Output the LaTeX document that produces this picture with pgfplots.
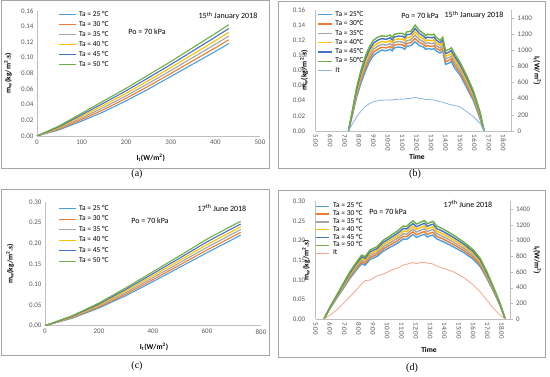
\documentclass[border=0pt]{standalone}
\usepackage{pgfplots}
\usepackage{pgfplotstable}
\pgfplotsset{compat=1.18}
\usepackage{fontspec}
\setmainfont{Carlito}
\newfontfamily\capfont{Liberation Serif}
\definecolor{cA}{HTML}{4A9FE0}
\definecolor{cB}{HTML}{ED7D31}
\definecolor{cC}{HTML}{A5A5A5}
\definecolor{cD}{HTML}{FFC000}
\definecolor{cE}{HTML}{4472C4}
\definecolor{cF}{HTML}{70AD47}
\definecolor{itb}{HTML}{8DB4E2}
\definecolor{itd}{HTML}{F5A38A}
\definecolor{axgray}{HTML}{BFBFBF}
\definecolor{boxgray}{HTML}{A6A6A6}
\definecolor{tickgray}{HTML}{595959}

\pgfplotstableread{
x m25 m30 m35 m40 m45 m50
0 0 0 0 0 0 0
50 .008 .009 .010 .011 .012 .013
100 .019 .021 .023 .025 .027 .029
150 .031 .0338 .0366 .0394 .0422 .045
200 .045 .0482 .0514 .0546 .0578 .061
250 .060 .0636 .0672 .0708 .0744 .078
300 .076 .0798 .0836 .0874 .0912 .095
350 .092 .0962 .1004 .1046 .1088 .113
400 .108 .1126 .1172 .1218 .1264 .131
430 .118 .1228 .1276 .1324 .1372 .142
}\tabA

\pgfplotstableread{
x m25 m30 m35 m40 m45 m50
0 0 0 0 0 0 0
100 .018 .0192 .0204 .0216 .0228 .024
200 .043 .0454 .0478 .0502 .0526 .055
300 .073 .0768 .0806 .0844 .0882 .092
400 .107 .1118 .1166 .1214 .1262 .131
500 .142 .1476 .1532 .1588 .1644 .170
600 .177 .1836 .1902 .1968 .2034 .210
700 .211 .2178 .2246 .2314 .2382 .245
725 .220 .2266 .2332 .2398 .2464 .253
}\tabC

\pgfplotstableread{
t m25 m30 m35 m40 m45 m50 It
7.27 0 0 0 0 0 0 0
7.55 .022 .0232 .0244 .0256 .0268 .028 90
7.84 .045 .0476 .0502 .0528 .0554 .058 177
8.13 .063 .0664 .0698 .0732 .0766 .080 245
8.42 .078 .082 .086 .090 .094 .098 301
8.71 .091 .095 .099 .103 .107 .111 338
9.00 .100 .104 .108 .112 .116 .120 363
9.29 .104 .108 .112 .116 .120 .124 375
9.58 .107 .1108 .1146 .1184 .1222 .126 382
9.87 .106 .1098 .1136 .1174 .1212 .125 384
10.16 .108 .1118 .1156 .1194 .1232 .127 386
10.30 .106 .1096 .1132 .1168 .1204 .124 383
10.45 .110 .1136 .1172 .1208 .1244 .128 390
10.74 .111 .1146 .1182 .1218 .1254 .129 394
11.03 .110 .1138 .1176 .1214 .1252 .129 396
11.17 .108 .1118 .1156 .1194 .1232 .127 394
11.31 .112 .1158 .1196 .1234 .1272 .131 402
11.60 .113 .1168 .1206 .1244 .1282 .132 405
11.89 .118 .1224 .1268 .1312 .1356 .140 418
12.18 .113 .117 .121 .125 .129 .133 405
12.47 .111 .1146 .1182 .1218 .1254 .129 398
12.62 .108 .1116 .1152 .1188 .1224 .126 390
12.76 .109 .1128 .1166 .1204 .1242 .128 392
13.05 .108 .1118 .1156 .1194 .1232 .127 385
13.20 .109 .1128 .1166 .1204 .1242 .128 384
13.34 .106 .1096 .1132 .1168 .1204 .124 376
13.62 .103 .1064 .1098 .1132 .1166 .120 363
13.80 .106 .1096 .1132 .1168 .1204 .124 358
14.00 .088 .0916 .0952 .0988 .1024 .106 345
14.25 .090 .0936 .0972 .1008 .1044 .108 330
14.40 .092 .0956 .0992 .1028 .1064 .110 325
14.60 .084 .0878 .0916 .0954 .0992 .103 315
15.00 .074 .0774 .0808 .0842 .0876 .091 301
15.47 .057 .0602 .0634 .0666 .0698 .073 239
15.93 .040 .0426 .0452 .0478 .0504 .053 177
16.39 .016 .0178 .0196 .0214 .0232 .025 95
16.67 0 0 0 0 0 0 0
}\tabB

\pgfplotstableread{
t m25 m30 m35 m40 m45 m50 It
5.58 0 0 0 0 0 0 0
6.00 .027 .0278 .0286 .0294 .0302 .031 50
6.47 .053 .0546 .0562 .0578 .0594 .061 115
6.93 .078 .0806 .0832 .0858 .0884 .091 200
7.40 .104 .1074 .1108 .1142 .1176 .121 284
7.87 .126 .130 .134 .138 .142 .146 378
8.22 .141 .1454 .1498 .1542 .1586 .163 450
8.45 .137 .1414 .1458 .1502 .1546 .159 490
8.80 .152 .1568 .1616 .1664 .1712 .176 496
9.27 .159 .164 .169 .174 .179 .184 548
9.73 .173 .1786 .1842 .1898 .1954 .201 573
10.20 .183 .1888 .1946 .2004 .2062 .212 616
10.66 .192 .1982 .2044 .2106 .2168 .223 645
11.13 .204 .2106 .2172 .2238 .2304 .237 688
11.36 .203 .2096 .2162 .2228 .2294 .236 698
11.59 .210 .2168 .2236 .2304 .2372 .244 709
11.80 .215 .222 .229 .236 .243 .250 720
12.05 .208 .2148 .2216 .2284 .2352 .242 705
12.29 .212 .2188 .2256 .2324 .2392 .246 718
12.60 .216 .223 .230 .237 .244 .251 722
12.80 .209 .2158 .2226 .2294 .2362 .243 710
12.99 .212 .2188 .2256 .2324 .2392 .246 709
13.20 .214 .221 .228 .235 .242 .249 700
13.46 .204 .2106 .2172 .2238 .2304 .237 675
13.93 .197 .2034 .2098 .2162 .2226 .229 645
14.62 .184 .190 .196 .202 .208 .214 603
15.32 .170 .1754 .1808 .1862 .1916 .197 531
16.02 .152 .1568 .1616 .1664 .1712 .176 433
16.49 .134 .1382 .1424 .1466 .1508 .155 348
16.96 .104 .1074 .1108 .1142 .1176 .121 242
17.42 .071 .0732 .0754 .0776 .0798 .082 136
17.89 .034 .0352 .0364 .0376 .0388 .040 51
18.24 0 0 0 0 0 0 0
}\tabD

\pgfplotsset{
  base/.style={
    scale only axis, anchor=south west,
    axis line style={-, draw=axgray, line width=0.6pt},
    major tick length=0pt, tick style={draw=none},
    ticklabel style={font=\fontsize{7}{8}\selectfont, text=tickgray},
    /pgf/number format/assume math mode=true,
    /pgf/number format/1000 sep={},
    label style={font=\bfseries\fontsize{7.5}{8}\selectfont},
    scaled y ticks=false,
    legend style={draw=none, fill=none, inner sep=0pt, outer sep=0pt,
      font=\fontsize{7.5}{8}\selectfont, anchor=north west,
      nodes={inner xsep=1pt, inner ysep=0pt, text height=5pt, text depth=1.5pt}},
    legend cell align=left,
  },
  twodec/.style={yticklabel style={/pgf/number format/fixed, /pgf/number format/fixed zerofill, /pgf/number format/precision=2}},
  leglen/.style={legend image code/.code={\draw[##1] (0pt,0pt) -- (#1,0pt);}},
  timeax/.style={xmin=5, xmax=18.58,
    xtick={5,6,7,8,9,10,11,12,13,14,15,16,17,18},
    xticklabels={5:00,6:00,7:00,8:00,9:00,10:00,11:00,12:00,13:00,14:00,15:00,16:00,17:00,18:00},
    xticklabel style={rotate=-90, anchor=west}},
}

\begin{document}
\begin{tikzpicture}
\useasboundingbox (0pt,0pt) rectangle (550pt,-377pt);
\draw[boxgray, line width=0.5pt] (1pt,-0.5pt) rectangle (269pt,-168pt);
\draw[boxgray, line width=0.5pt] (278pt,-1.5pt) rectangle (545pt,-168pt);
\draw[boxgray, line width=0.5pt] (1pt,-189pt) rectangle (269pt,-355pt);
\draw[boxgray, line width=0.5pt] (278pt,-190pt) rectangle (545pt,-357pt);

% ---------- (a)
\begin{axis}[base, twodec, at={(37pt,-136pt)}, width=223pt, height=125.3pt,
  axis x line*=bottom, axis y line*=left,
  xmin=0, xmax=500, ymin=0, ymax=0.16,
  xtick={0,100,200,300,400,500}, ytick={0,0.02,0.04,0.06,0.08,0.10,0.12,0.14,0.16},
  xlabel={I\textsubscript{t}(W/m\textsuperscript{2})},
  ylabel={m\textsubscript{w}(kg/m\textsuperscript{2}.s)},
  xlabel style={at={(axis description cs:0.51,-0.176)}, anchor=center},
  ylabel style={at={(axis description cs:-0.13,0.5)}, anchor=center},
  leglen=17pt,
  legend style={at={(0.094,0.994)}, row sep=3.5pt, column sep=2pt}]
\addplot[cA, line width=1.1pt] table[x=x,y=m25]{\tabA};
\addplot[cB, line width=1.1pt] table[x=x,y=m30]{\tabA};
\addplot[cC, line width=1.1pt] table[x=x,y=m35]{\tabA};
\addplot[cD, line width=1.1pt] table[x=x,y=m40]{\tabA};
\addplot[cE, line width=1.1pt] table[x=x,y=m45]{\tabA};
\addplot[cF, line width=1.1pt] table[x=x,y=m50]{\tabA};
\legend{Ta = 25 °C, Ta = 30 °C, Ta = 35 °C, Ta = 40 °C, Ta = 45 °C, Ta = 50 °C}
\end{axis}

% ---------- (c)
\begin{axis}[base, twodec, at={(45pt,-325.7pt)}, width=216pt, height=123.7pt,
  axis x line*=bottom, axis y line*=left,
  xmin=0, xmax=800, ymin=0, ymax=0.30,
  xtick={0,200,400,600,800}, ytick={0,0.05,0.10,0.15,0.20,0.25,0.30},
  xlabel={I\textsubscript{t}(W/m\textsuperscript{2})},
  ylabel={m\textsubscript{w}(kg/m\textsuperscript{2}.s)},
  xlabel style={at={(axis description cs:0.505,-0.172)}, anchor=center},
  ylabel style={at={(axis description cs:-0.162,0.5)}, anchor=center},
  leglen=17pt,
  legend style={at={(0.06,0.972)}, row sep=4pt, column sep=2pt}]
\addplot[cA, line width=1.1pt] table[x=x,y=m25]{\tabC};
\addplot[cB, line width=1.1pt] table[x=x,y=m30]{\tabC};
\addplot[cC, line width=1.1pt] table[x=x,y=m35]{\tabC};
\addplot[cD, line width=1.1pt] table[x=x,y=m40]{\tabC};
\addplot[cE, line width=1.1pt] table[x=x,y=m45]{\tabC};
\addplot[cF, line width=1.1pt] table[x=x,y=m50]{\tabC};
\legend{Ta = 25 °C, Ta = 30 °C, Ta = 35 °C, Ta = 40 °C, Ta = 45 °C, Ta = 50 °C}
\end{axis}

% ---------- (b)
\begin{axis}[base, twodec, timeax, at={(315.7pt,-131pt)}, width=196pt, height=121pt,
  axis x line*=bottom, axis y line*=left,
  ymin=0, ymax=0.16, ytick={0,0.02,0.04,0.06,0.08,0.10,0.12,0.14,0.16},
  xlabel={Time},
  ylabel={m\textsubscript{w}(kg/m\textsuperscript{2}.s)},
  xlabel style={at={(axis description cs:0.517,-0.215)}, anchor=center},
  ylabel style={at={(axis description cs:-0.06,0.5)}, anchor=center},
  yticklabel style={xshift=-7pt},
  leglen=14pt,
  legend style={at={(0.007,0.988)}, row sep=2.8pt, column sep=2pt}]
\addplot[cA, line width=1.4pt] table[x=t,y=m25]{\tabB};
\addplot[cB, line width=1.4pt] table[x=t,y=m30]{\tabB};
\addplot[cC, line width=1.4pt] table[x=t,y=m35]{\tabB};
\addplot[cD, line width=1.4pt] table[x=t,y=m40]{\tabB};
\addplot[cE, line width=1.4pt] table[x=t,y=m45]{\tabB};
\addplot[cF, line width=1.4pt] table[x=t,y=m50]{\tabB};
\addlegendimage{itb, line width=0.8pt}
\legend{Ta = 25°C, Ta = 30°C, Ta = 35°C, Ta = 40°C, Ta = 45°C, Ta = 50°C, It}
\end{axis}
\begin{axis}[base, at={(315.7pt,-131pt)}, width=196pt, height=121pt,
  axis x line=none, axis y line*=right,
  xmin=5, xmax=18.58, ymin=0, ymax=1500,
  ytick={0,200,400,600,800,1000,1200,1400},
  major tick length=2.5pt, tick align=outside, ytick style={draw=axgray},
  ylabel={I\textsubscript{t}(W/m\textsuperscript{2})},
  ylabel style={at={(axis description cs:1.13,0.5)}, anchor=center, rotate=180}]
\addplot[itb, line width=0.8pt] table[x=t,y=It]{\tabB};
\end{axis}

% ---------- (d)
\begin{axis}[base, twodec, timeax, at={(315.7pt,-319pt)}, width=194.3pt, height=117.7pt,
  axis x line*=bottom, axis y line*=left,
  ymin=0, ymax=0.30, ytick={0,0.05,0.10,0.15,0.20,0.25,0.30},
  xlabel={Time},
  ylabel={m\textsubscript{w}(kg/m\textsuperscript{2}.s)},
  xlabel style={at={(axis description cs:0.583,-0.263)}, anchor=center},
  ylabel style={at={(axis description cs:-0.05,0.5)}, anchor=center},
  yticklabel style={xshift=-7pt},
  leglen=13pt,
  legend style={at={(0.0,0.986)}, row sep=1.3pt, column sep=2pt}]
\addplot[cA, line width=1.4pt] table[x=t,y=m25]{\tabD};
\addplot[cB, line width=1.4pt] table[x=t,y=m30]{\tabD};
\addplot[cC, line width=1.4pt] table[x=t,y=m35]{\tabD};
\addplot[cD, line width=1.4pt] table[x=t,y=m40]{\tabD};
\addplot[cE, line width=1.4pt] table[x=t,y=m45]{\tabD};
\addplot[cF, line width=1.4pt] table[x=t,y=m50]{\tabD};
\addlegendimage{itd, line width=0.8pt}
\legend{Ta = 25 °C, Ta = 30 °C, Ta = 35 °C, Ta = 40 °C, Ta = 45 °C, Ta = 50 °C, It}
\end{axis}
\begin{axis}[base, at={(315.7pt,-319pt)}, width=194.3pt, height=117.7pt,
  axis x line=none, axis y line*=right,
  xmin=5, xmax=18.58, ymin=0, ymax=1500,
  ytick={0,200,400,600,800,1000,1200,1400},
  major tick length=2.5pt, tick align=outside, ytick style={draw=axgray},
  ylabel={I\textsubscript{t}(W/m\textsuperscript{2})},
  ylabel style={at={(axis description cs:1.14,0.5)}, anchor=center, rotate=180}]
\addplot[itd, line width=0.8pt] table[x=t,y=It]{\tabD};
\end{axis}

% ---------- annotations
\begin{scope}[every node/.style={font=\fontsize{8}{9}\selectfont, inner sep=0pt}]
\node at (147pt,-32pt) {Po = 70 kPa};
\node at (228pt,-16pt) {15\textsuperscript{th} January 2018};
\node at (420pt,-15.7pt) {Po = 70 kPa};
\node at (474pt,-15pt) {15\textsuperscript{th} January 2018};
\node at (150pt,-221pt) {Po = 70 kPa};
\node at (222pt,-208pt) {17\textsuperscript{th} June 2018};
\node at (388pt,-212pt) {Po = 70 kPa};
\node at (468pt,-204pt) {17\textsuperscript{th} June 2018};
\end{scope}
\begin{scope}[every node/.style={font=\capfont\fontsize{10}{11}\selectfont, inner sep=0pt}]
\node at (137pt,-174pt) {(a)};
\node at (415pt,-174pt) {(b)};
\node at (137pt,-366pt) {(c)};
\node at (412pt,-368pt) {(d)};
\end{scope}
\end{tikzpicture}
\end{document}
